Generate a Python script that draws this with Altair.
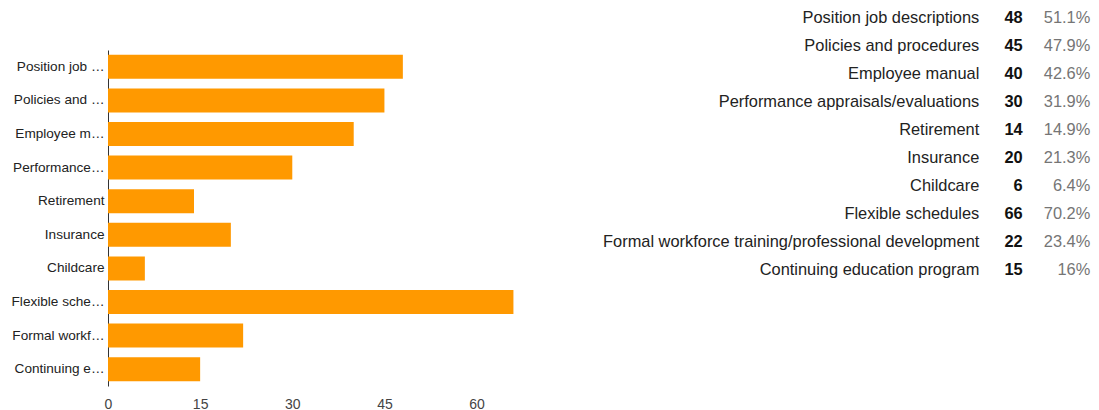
import altair as alt
import pandas as pd

categories = [
    "Position job descriptions",
    "Policies and procedures",
    "Employee manual",
    "Performance appraisals/evaluations",
    "Retirement",
    "Insurance",
    "Childcare",
    "Flexible schedules",
    "Formal workforce training/professional development",
    "Continuing education program",
]
counts = [48, 45, 40, 30, 14, 20, 6, 66, 22, 15]
percents = ["51.1%", "47.9%", "42.6%", "31.9%", "14.9%", "21.3%", "6.4%", "70.2%", "23.4%", "16%"]
x_ticks = [0, 15, 30, 45, 60]

df = pd.DataFrame({"category": categories, "count": counts, "pct": percents})

FONT = "Liberation Sans, Arial, sans-serif"
W, H = 430, 336

bars = alt.Chart(df).mark_bar(color="#ff9900").encode(
    x=alt.X(
        "count:Q",
        scale=alt.Scale(domain=[0, 70], nice=False),
        axis=alt.Axis(values=x_ticks, grid=False, ticks=False, domain=False,
                      labelPadding=11, labelFontSize=14, labelColor="#444444",
                      labelFont=FONT, labelFlush=False, title=None),
    ),
    y=alt.Y(
        "category:N",
        sort=categories,
        scale=alt.Scale(paddingInner=0.286, paddingOuter=0.143),
        axis=alt.Axis(ticks=False, labelPadding=4, labelLimit=94, labelFontSize=13.6,
                      labelColor="#222222", labelFont=FONT, domainColor="#333333",
                      title=None),
    ),
)

yt = alt.Y("category:N", sort=categories,
           scale=alt.Scale(type="point", range=[-32.5, 220.4], padding=0), axis=None)

lab = alt.Chart(df).mark_text(align="right", baseline="middle", font=FONT,
                              fontSize=16.4, color="#222222").encode(
    y=yt, x=alt.value(871.3), text="category:N")
cnt = alt.Chart(df).mark_text(align="right", baseline="middle", font=FONT,
                              fontSize=16.4, fontWeight="bold", color="#111111").encode(
    y=yt, x=alt.value(914.7), text="count:Q")
pct = alt.Chart(df).mark_text(align="right", baseline="middle", font=FONT,
                              fontSize=16.4, color="#757575").encode(
    y=yt, x=alt.value(982.3), text="pct:N")

chart = alt.layer(bars, lab, cnt, pct).resolve_scale(y="independent").properties(
    width=W, height=H,
    autosize=alt.AutoSizeParams(type="none"),
    padding={"left": 100, "top": 42, "right": 553, "bottom": 24},
).configure_view(stroke=None)

chart.save("out.html", embed_options={"renderer": "svg", "actions": False})
